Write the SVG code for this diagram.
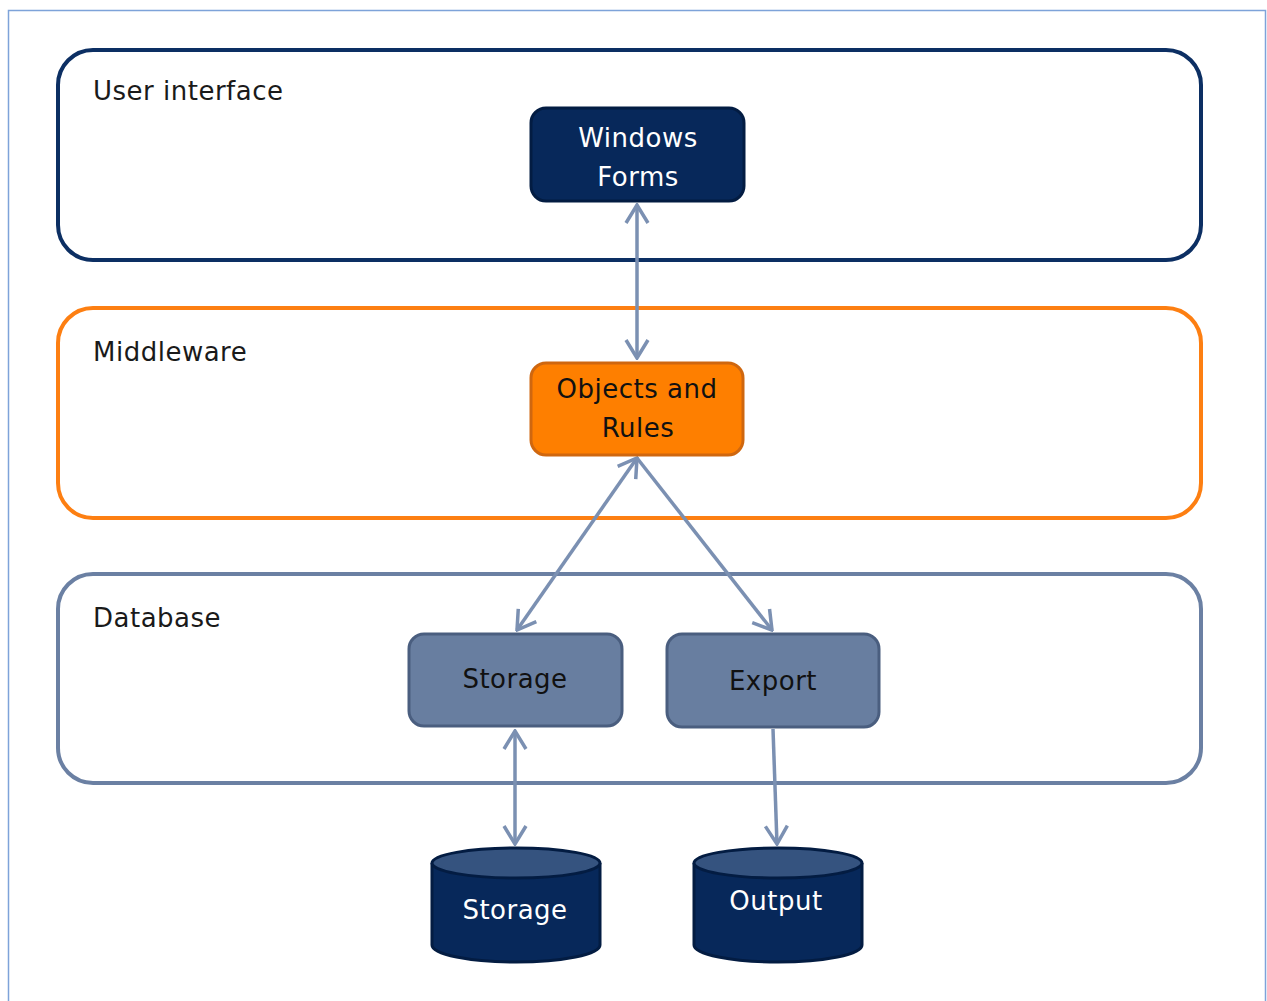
<svg xmlns="http://www.w3.org/2000/svg" width="1267" height="1001" viewBox="0 0 1267 1001">
  <defs>
    <style>
      .layer { fill: #ffffff; stroke-width: 4; }
      .lbl { font-family: "DejaVu Sans", "Liberation Sans", sans-serif; font-size: 26px; fill: #1a1a1a; letter-spacing: 0.5px; }
      .ntxt { font-family: "DejaVu Sans", "Liberation Sans", sans-serif; font-size: 26px; text-anchor: middle; letter-spacing: 0.5px; }
      .conn { stroke: #7b90b2; stroke-width: 3.5; fill: none; }
    </style>
    <marker id="arr" viewBox="0 0 22 26" refX="20" refY="13" markerWidth="22" markerHeight="26" markerUnits="userSpaceOnUse" orient="auto-start-reverse">
      <path d="M2,2 L20,13 L2,24" fill="none" stroke="#7b90b2" stroke-width="3.5" stroke-linejoin="miter"/>
    </marker>
  </defs>

  <rect width="1267" height="1001" fill="#ffffff"/>
  <rect id="frame" x="8.5" y="10.5" width="1257" height="1010" fill="none" stroke="#7ea3d9" stroke-width="1.5"/>

  <g id="layer-ui">
    <rect class="layer" x="58" y="50" width="1143" height="210" rx="35" stroke="#0c2f63"/>
    <text class="lbl" x="93" y="100">User interface</text>
  </g>
  <g id="layer-middleware">
    <rect class="layer" x="58" y="308" width="1143" height="210" rx="35" stroke="#fd7f12"/>
    <text class="lbl" x="93" y="361">Middleware</text>
  </g>
  <g id="layer-database">
    <rect class="layer" x="58" y="574" width="1143" height="209" rx="35" stroke="#6b80a3"/>
    <text class="lbl" x="93" y="627">Database</text>
  </g>

  <g id="connectors">
    <line class="conn" x1="637" y1="205" x2="637" y2="358" marker-start="url(#arr)" marker-end="url(#arr)"/>
    <line class="conn" x1="637" y1="458" x2="517" y2="630" marker-start="url(#arr)" marker-end="url(#arr)"/>
    <line class="conn" x1="637" y1="458" x2="772" y2="630" marker-end="url(#arr)"/>
    <line class="conn" x1="515" y1="731" x2="515" y2="844" marker-start="url(#arr)" marker-end="url(#arr)"/>
    <line class="conn" x1="773" y1="729" x2="777" y2="844" marker-end="url(#arr)"/>
  </g>

  <g id="node-windows-forms">
    <rect x="531" y="108" width="213" height="93" rx="15" fill="#07285a" stroke="#031c42" stroke-width="3"/>
    <text class="ntxt" x="638" y="147" fill="#ffffff">Windows</text>
    <text class="ntxt" x="638" y="186" fill="#ffffff">Forms</text>
  </g>

  <g id="node-objects-rules">
    <rect x="531" y="363" width="212" height="92" rx="15" fill="#fe7f00" stroke="#cf670f" stroke-width="3"/>
    <text class="ntxt" x="637" y="398" fill="#111111">Objects and</text>
    <text class="ntxt" x="638" y="437" fill="#111111">Rules</text>
  </g>

  <g id="node-storage">
    <rect x="409" y="634" width="213" height="92" rx="15" fill="#687ea0" stroke="#4a5e7f" stroke-width="3"/>
    <text class="ntxt" x="515" y="688" fill="#111111">Storage</text>
  </g>

  <g id="node-export">
    <rect x="667" y="634" width="212" height="93" rx="15" fill="#687ea0" stroke="#4a5e7f" stroke-width="3"/>
    <text class="ntxt" x="773" y="690" fill="#111111">Export</text>
  </g>

  <g id="node-storage-db">
    <path d="M432,863 L432,945 A84,17 0 0 0 600,945 L600,863" fill="#07285a" stroke="#031c42" stroke-width="3"/>
    <ellipse cx="516" cy="863" rx="84" ry="15" fill="#35537f" stroke="#031c42" stroke-width="3"/>
    <text class="ntxt" x="515" y="919" fill="#ffffff">Storage</text>
  </g>

  <g id="node-output-db">
    <path d="M694,863 L694,945 A84,17 0 0 0 862,945 L862,863" fill="#07285a" stroke="#031c42" stroke-width="3"/>
    <ellipse cx="778" cy="863" rx="84" ry="15" fill="#35537f" stroke="#031c42" stroke-width="3"/>
    <text class="ntxt" x="776" y="910" fill="#ffffff">Output</text>
  </g>
</svg>
